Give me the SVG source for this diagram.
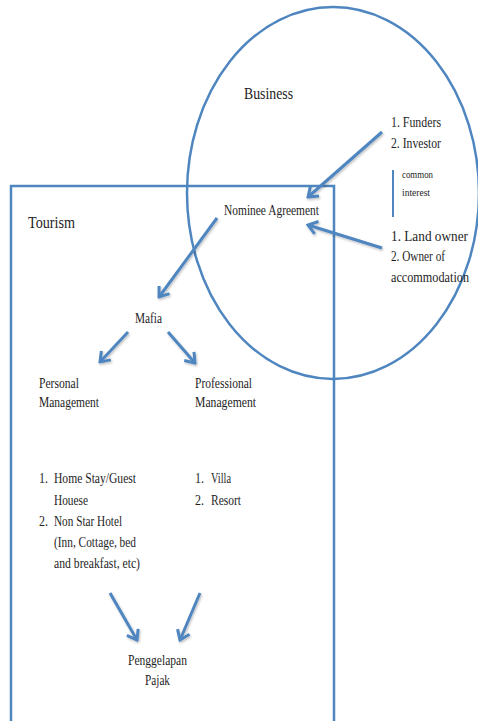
<svg xmlns="http://www.w3.org/2000/svg" width="478" height="721" viewBox="0 0 478 721">
<style>
.shape{fill:none;stroke:#4f86c0;stroke-width:2.5}
.conn{fill:none;stroke:#4f86c0;stroke-width:3;stroke-linecap:butt;marker-end:url(#arr);filter:url(#sh)}
.line{fill:none;stroke:#4f86c0;stroke-width:2}
text{font-family:"Liberation Serif","Times New Roman",serif;fill:#1e1e1e;font-size:14.5px}
.big{font-size:17px}
.small{font-size:10px}
</style>
<defs>
<marker id="arr" viewBox="-11 -8 13 16" refX="0" refY="0" markerUnits="userSpaceOnUse" markerWidth="13" markerHeight="16" orient="auto">
<path d="M-9,-6.5 L0,0 L-9,6.5" fill="none" stroke="#4f86c0" stroke-width="3" stroke-linejoin="miter"/>
</marker>
<filter id="sh" x="-30%" y="-30%" width="160%" height="160%">
<feDropShadow dx="1" dy="1.5" stdDeviation="1.2" flood-color="#000" flood-opacity="0.25"/>
</filter>
</defs>
<rect width="478" height="721" fill="#ffffff"/>
<g id="tourism">
<rect class="shape" x="11" y="186" width="323" height="560"/>
<text class="big" x="28" y="228" textLength="47" lengthAdjust="spacingAndGlyphs">Tourism</text>
</g>
<g id="business">
<ellipse class="shape" cx="333" cy="193" rx="146" ry="186"/>
<text class="big" x="244" y="99" textLength="49" lengthAdjust="spacingAndGlyphs">Business</text>
</g>
<g id="funders">
<text x="391" y="127" textLength="50" lengthAdjust="spacingAndGlyphs">1. Funders</text>
<text x="391" y="148" textLength="50" lengthAdjust="spacingAndGlyphs">2. Investor</text>
</g>
<g id="common-interest">
<line class="line" x1="393" y1="170" x2="393" y2="217"/>
<text class="small" x="402" y="178" textLength="31" lengthAdjust="spacingAndGlyphs">common</text>
<text class="small" x="402" y="196" textLength="28" lengthAdjust="spacingAndGlyphs">interest</text>
</g>
<g id="owners">
<text x="391" y="241" textLength="77" lengthAdjust="spacingAndGlyphs">1. Land owner</text>
<text x="391" y="261" textLength="54" lengthAdjust="spacingAndGlyphs">2. Owner of</text>
<text x="391" y="282" textLength="78" lengthAdjust="spacingAndGlyphs">accommodation</text>
</g>
<g id="nominee">
<text x="224" y="215" textLength="95" lengthAdjust="spacingAndGlyphs">Nominee Agreement</text>
</g>
<g id="mafia">
<text x="135" y="323" textLength="27" lengthAdjust="spacingAndGlyphs">Mafia</text>
</g>
<g id="personal">
<text x="39" y="388" textLength="40" lengthAdjust="spacingAndGlyphs">Personal</text>
<text x="39" y="407" textLength="60" lengthAdjust="spacingAndGlyphs">Management</text>
</g>
<g id="professional">
<text x="195" y="388" textLength="57" lengthAdjust="spacingAndGlyphs">Professional</text>
<text x="195" y="407" textLength="61" lengthAdjust="spacingAndGlyphs">Management</text>
</g>
<g id="personal-list">
<text x="39" y="483" textLength="9" lengthAdjust="spacingAndGlyphs">1.</text>
<text x="54" y="483" textLength="82" lengthAdjust="spacingAndGlyphs">Home Stay/Guest</text>
<text x="54" y="505" textLength="34" lengthAdjust="spacingAndGlyphs">Houese</text>
<text x="39" y="526" textLength="9" lengthAdjust="spacingAndGlyphs">2.</text>
<text x="54" y="526" textLength="68" lengthAdjust="spacingAndGlyphs">Non Star Hotel</text>
<text x="54" y="547" textLength="82" lengthAdjust="spacingAndGlyphs">(Inn, Cottage, bed</text>
<text x="54" y="568" textLength="86" lengthAdjust="spacingAndGlyphs">and breakfast, etc)</text>
</g>
<g id="professional-list">
<text x="195" y="483" textLength="9" lengthAdjust="spacingAndGlyphs">1.</text>
<text x="211" y="483" textLength="20" lengthAdjust="spacingAndGlyphs">Villa</text>
<text x="195" y="505" textLength="9" lengthAdjust="spacingAndGlyphs">2.</text>
<text x="211" y="505" textLength="30" lengthAdjust="spacingAndGlyphs">Resort</text>
</g>
<g id="pajak">
<text x="128" y="665" textLength="59" lengthAdjust="spacingAndGlyphs">Penggelapan</text>
<text x="145" y="685" textLength="25" lengthAdjust="spacingAndGlyphs">Pajak</text>
</g>
<g id="connectors">
<line class="conn" x1="382" y1="132" x2="308" y2="197"/>
<line class="conn" x1="382" y1="248" x2="308" y2="225"/>
<line class="conn" x1="217" y1="218" x2="159" y2="297"/>
<line class="conn" x1="128" y1="332" x2="100" y2="362"/>
<line class="conn" x1="168" y1="332" x2="195" y2="363"/>
<line class="conn" x1="41" y1="413" x2="41" y2="455"/>
<line class="conn" x1="197" y1="413" x2="197" y2="455"/>
<line class="conn" x1="110" y1="593" x2="137" y2="640"/>
<line class="conn" x1="200" y1="593" x2="180" y2="640"/>
</g>
</svg>
